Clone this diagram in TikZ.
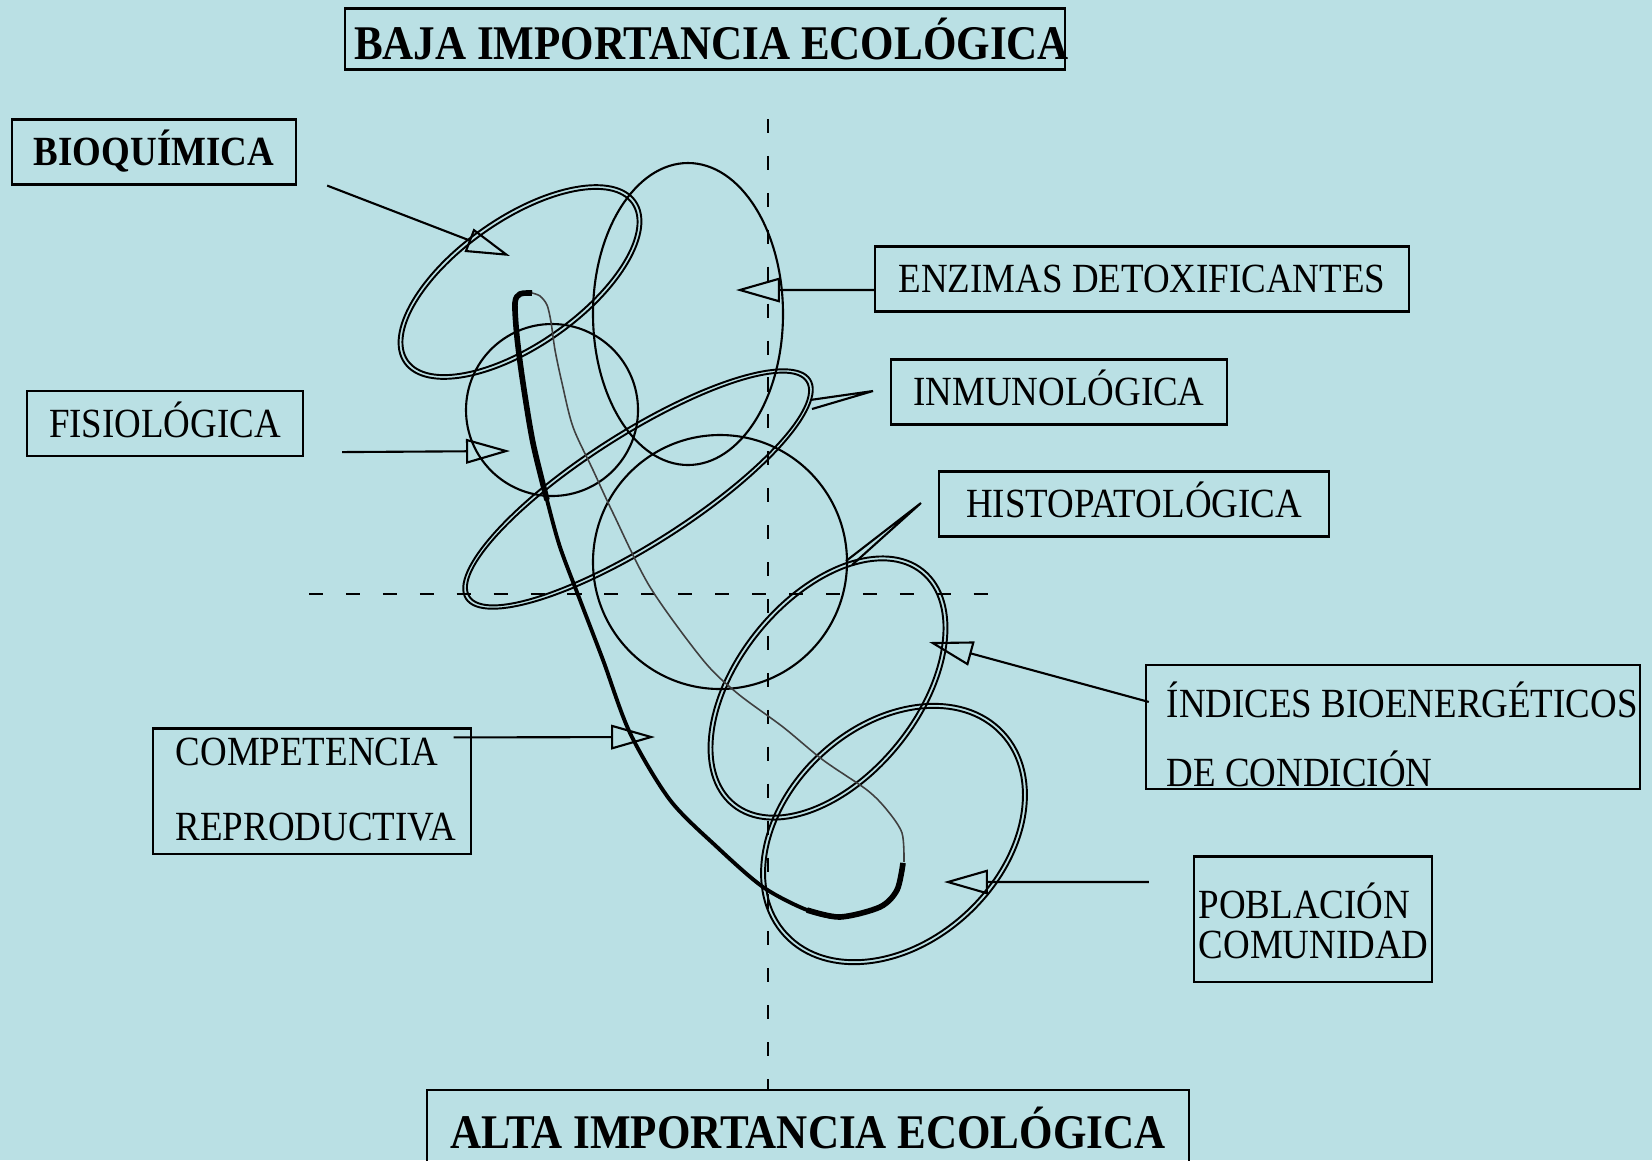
\documentclass[tikz,border=0pt]{standalone}
\usepackage{fontspec}
\setmainfont{Liberation Serif}[FakeStretch=0.89]
\usetikzlibrary{arrows.meta}
\definecolor{fondo}{RGB}{186,224,228}

\begin{document}
\begin{tikzpicture}[x=0.01cm, y=-0.01cm,
  linea/.style={line width=0.6pt},
  doble/.style={line width=0.55pt},
  caja/.style={draw, line width=0.6pt, inner sep=0pt, text height=7.8pt, text depth=0pt,
    font=\fontsize{11.8}{14}\selectfont},
  titulo/.style={caja, text height=11.5pt, font=\bfseries\fontsize{13.75}{16}\selectfont},
  marco/.style={draw, line width=0.6pt, inner sep=0pt},
  texto/.style={inner sep=0pt, anchor=base west, font=\fontsize{11.8}{14}\selectfont},
  flecha/.style={line width=0.6pt, -{Triangle[open, length=12.5pt, width=7pt]}},
  corte/.style={line width=0.6pt, dash pattern=on 4pt off 6.5pt}]
  \useasboundingbox (0,0) rectangle (1652,1160);
  \fill[fondo] (0,0) rectangle (1652,1160);

  % ejes
  \draw[corte] (768,119) -- (768,1090);
  \draw[corte] (309,594) -- (996,594);

  % elipses
  \draw[doble, rotate around={35:(520,282)}] (520,282) ellipse (141 and 65);
  \draw[doble, rotate around={35:(520,282)}] (520,282) ellipse (137 and 61);
  \draw[linea] (688,314) ellipse (95 and 151);
  \draw[linea] (552,410) circle (86);
  \draw[doble, rotate around={32.5:(638,489)}] (638,489) ellipse (204 and 57);
  \draw[doble, rotate around={32.5:(638,489)}] (638,489) ellipse (200 and 53);
  \draw[linea] (810,400) -- (873,391) -- (812,409);
  \draw[linea] (720,562) circle (127);
  \draw[linea] (846,561) -- (921,503) -- (852,565);
  \draw[doble, rotate around={51:(828,688)}] (828,688) ellipse (152 and 92);
  \draw[doble, rotate around={51:(828,688)}] (828,688) ellipse (148 and 88);
  \draw[doble, rotate around={43:(894,834)}] (894,834) ellipse (150 and 110);
  \draw[doble, rotate around={43:(894,834)}] (894,834) ellipse (146 and 106);
  %
  \draw[line width=1.1pt] plot[smooth] coordinates {(532,293) (520,294) (515,303) (517,337) (523,383)
    (533,443) (547,500) (560,547) (580,600) (603,660) (630,733) (670,800) (717,847) (763,887)
    (807,910) (840,917) (880,907) (897,890) (903,863)};
  \draw[line width=1.6pt] plot[smooth] coordinates {(532,293) (520,294) (515,303) (517,337)
    (523,383) (533,443) (547,500)};
  \draw[line width=1.6pt] plot[smooth] coordinates {(807,910) (840,917) (880,907) (897,890) (903,863)};
  \draw[line width=0.45pt, black!75] plot[smooth] coordinates {(532,293) (540,296) (547,305) (551,322)
    (555,350) (562,383) (573,427) (593,470) (613,513) (650,587) (703,660) (737,693) (783,727)
    (823,760) (867,790) (887,810) (902,833) (904,862)};

  % cajas
  \node[titulo, minimum width=7.19cm, minimum height=0.61cm] (baja) at (705,39) {\makebox[6.9cm]{\hspace*{0.13cm}BAJA IMPORTANCIA ECOLÓGICA}};
  \node[titulo, minimum width=7.61cm, minimum height=0.76cm] (alta) at (808,1128) {ALTA IMPORTANCIA ECOLÓGICA};
  \node[caja, font=\bfseries\fontsize{11.8}{14}\selectfont, minimum width=2.84cm, minimum height=0.65cm] (bioq) at (154,152) {BIOQUÍMICA};
  \node[caja, minimum width=2.76cm, minimum height=0.65cm] (fisio) at (165,423.5) {FISIOLÓGICA};
  \node[caja, minimum width=5.33cm, minimum height=0.65cm] (enz) at (1142,279) {ENZIMAS DETOXIFICANTES};
  \node[caja, minimum width=3.36cm, minimum height=0.65cm] (inmuno) at (1059,392) {INMUNOLÓGICA};
  \node[caja, minimum width=3.90cm, minimum height=0.65cm] (histo) at (1134,504) {HISTOPATOLÓGICA};
  \node[marco, minimum width=4.94cm, minimum height=1.24cm] (ind) at (1393,727) {};
  \node[texto] (ind-a) at (1166,717.5) {ÍNDICES BIOENERGÉTICOS};
  \node[texto] (ind-b) at (1166,786) {DE CONDICIÓN};
  \node[marco, minimum width=2.38cm, minimum height=1.25cm] (pob) at (1313,919) {};
  \node[texto] (pob-a) at (1198,918.7) {POBLACIÓN};
  \node[texto] (pob-b) at (1198,958.8) {COMUNIDAD};
  \node[marco, minimum width=3.17cm, minimum height=1.25cm] (comp) at (312,791) {};
  \node[texto] (comp-a) at (175,765) {COMPETENCIA};
  \node[texto] (comp-b) at (175,840) {REPRODUCTIVA};

  % flechas
  \coordinate (bioq-p) at (510,256);
  \coordinate (fisio-p) at (510,451);
  \coordinate (enz-p) at (736,290);
  \coordinate (comp-p) at (655,737);
  \coordinate (ind-p) at (929,642);
  \coordinate (pob-p) at (944,882);
  \draw[flecha] ([xshift=0.3cm]bioq.south east) -- (bioq-p);
  \draw[flecha] ([xshift=0.38cm,yshift=0.05cm]fisio.south east) -- (fisio-p);
  \draw[flecha] ([yshift=-0.11cm]enz.west) -- (enz-p);
  \draw[flecha] ([xshift=-0.18cm,yshift=-0.10cm]comp.north east) -- (comp-p);
  \draw[flecha] ([xshift=0.04cm,yshift=-0.38cm]ind.north west) -- (ind-p);
  \draw[flecha] ([xshift=-0.44cm,yshift=0.37cm]pob.west) -- (pob-p);
\end{tikzpicture}
\end{document}
